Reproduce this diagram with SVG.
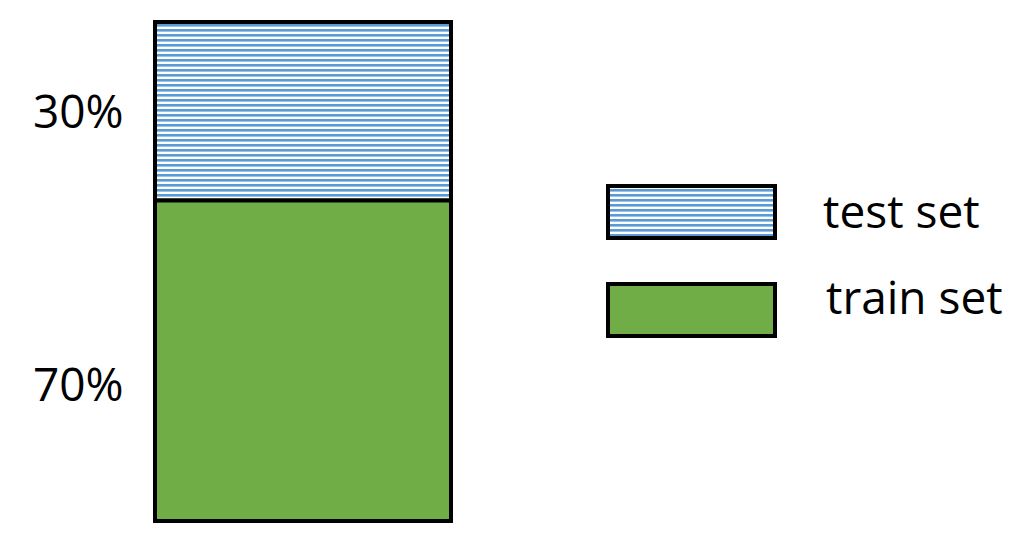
<svg xmlns="http://www.w3.org/2000/svg" width="1024" height="535" viewBox="0 0 1024 535">
<defs>
<pattern id="stripes" patternUnits="userSpaceOnUse" x="0" y="24" width="10" height="5">
<rect x="0" y="0" width="10" height="5" fill="#ffffff"/>
<rect x="0" y="0" width="10" height="2.6" fill="#5b9bd5"/>
</pattern>
</defs>
<style>
.box{stroke:#000;stroke-width:4}
.test{fill:url(#stripes)}
.train{fill:#70ad47}
.lbl{font-family:"Open Sans","Liberation Sans",sans-serif;font-size:46px;fill:#000}
</style>
<rect width="1024" height="535" fill="#fff"/>
<g id="bar">
<g id="bar-test"><rect class="box test" x="155" y="22" width="296" height="178.5"/></g>
<g id="bar-train"><rect class="box train" x="155" y="200.5" width="296" height="320.5"/></g>
</g>
<g id="labels">
<text class="lbl" x="33" y="128">30%</text>
<text class="lbl" x="33" y="401">70%</text>
</g>
<g id="legend-test">
<rect class="box test" x="608" y="186" width="167" height="52"/>
<text class="lbl" x="823" y="228">test set</text>
</g>
<g id="legend-train">
<rect class="box train" x="608" y="284" width="167" height="52"/>
<text class="lbl" x="826" y="314">train set</text>
</g>
<g id="connectors"></g>
</svg>
